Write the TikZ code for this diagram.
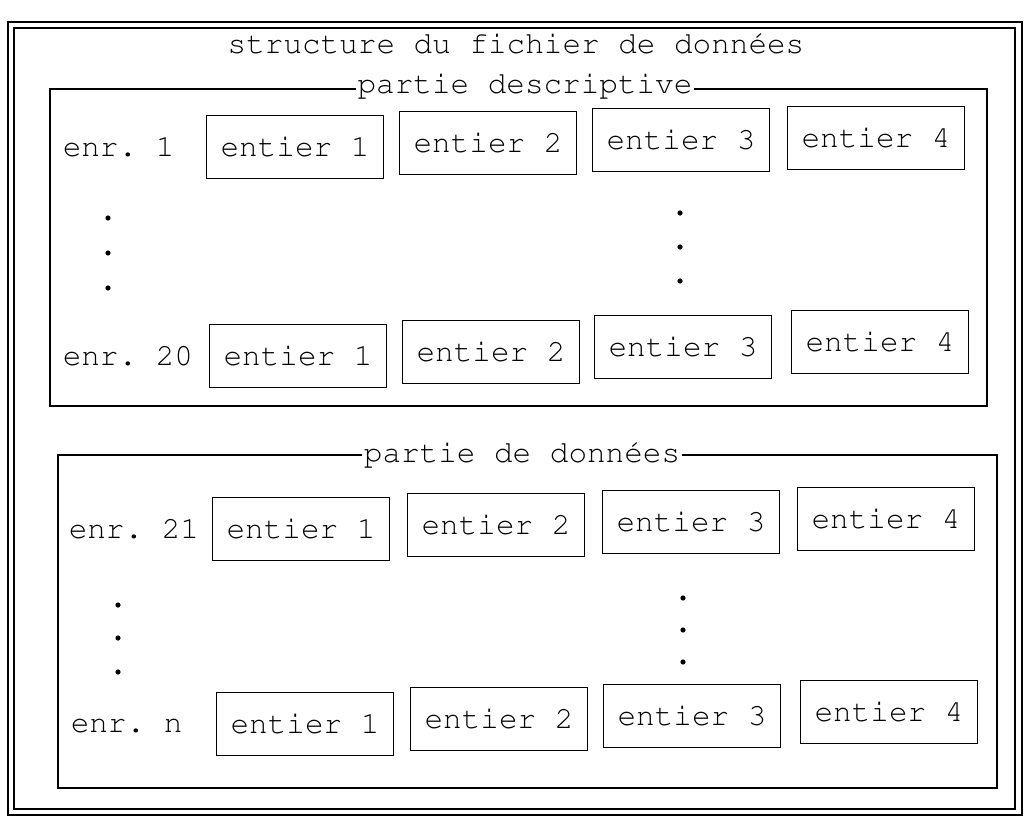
\documentclass[tikz,border=0pt]{standalone}
\usepackage[T1]{fontenc}
\usepackage{courier}
\usepackage{tikz}
\frenchspacing

\begin{document}
\begin{tikzpicture}[
    x=0.5pt, y=-0.5pt,
    every node/.style={font=\ttfamily\fontsize{15.5}{18}\selectfont, inner sep=0pt},
    champ/.style={draw, minimum width=88.5pt, minimum height=31.5pt},
    partie/.style={fill=white, inner sep=1pt, anchor=mid},
    line width=0.75pt
  ]
    \useasboundingbox (0,0) rectangle (1027,818);
    % cadre double
    \draw (8,22) rectangle (1022,815);
    \draw (14,28) rectangle (1015,809);
    \node (titre) at (516,43) {structure du fichier de donn\'ees};

    % partie descriptive
    \draw (50,89) rectangle (987,406);
    \node[partie] (desc) at (525,89) {partie descriptive};
    \node[anchor=west] (r1) at (62,147) {enr. 1};
    \node[champ] (a1) at (295,147) {entier 1};
    \node[champ] (a2) at (488,143) {entier 2};
    \node[champ] (a3) at (681,140) {entier 3};
    \node[champ] (a4) at (876,138) {entier 4};
    \fill (108,218) circle (1.3pt);
    \fill (108,253) circle (1.3pt);
    \fill (108,288) circle (1.3pt);
    \fill (680,213) circle (1.3pt);
    \fill (680,247) circle (1.3pt);
    \fill (680,281) circle (1.3pt);
    \node[anchor=west] (r20) at (62,356) {enr. 20};
    \node[champ] (b1) at (298,356) {entier 1};
    \node[champ] (b2) at (491,352) {entier 2};
    \node[champ] (b3) at (683,347) {entier 3};
    \node[champ] (b4) at (880,342) {entier 4};

    % partie de donnees
    \draw (58,455) rectangle (997,788);
    \node[partie] (donn) at (522,458) {partie de donn\'ees};
    \node[anchor=west] (r21) at (68,529) {enr. 21};
    \node[champ] (c1) at (301,529) {entier 1};
    \node[champ] (c2) at (496,525) {entier 2};
    \node[champ] (c3) at (691,522) {entier 3};
    \node[champ] (c4) at (886,519) {entier 4};
    \fill (118,605) circle (1.3pt);
    \fill (118,638) circle (1.3pt);
    \fill (118,672) circle (1.3pt);
    \fill (683,598) circle (1.3pt);
    \fill (683,630) circle (1.3pt);
    \fill (683,662) circle (1.3pt);
    \node[anchor=west] (rn) at (70,726) {enr. n};
    \node[champ] (d1) at (305,724) {entier 1};
    \node[champ] (d2) at (499,719) {entier 2};
    \node[champ] (d3) at (692,716) {entier 3};
    \node[champ] (d4) at (889,712) {entier 4};
\end{tikzpicture}
\end{document}
